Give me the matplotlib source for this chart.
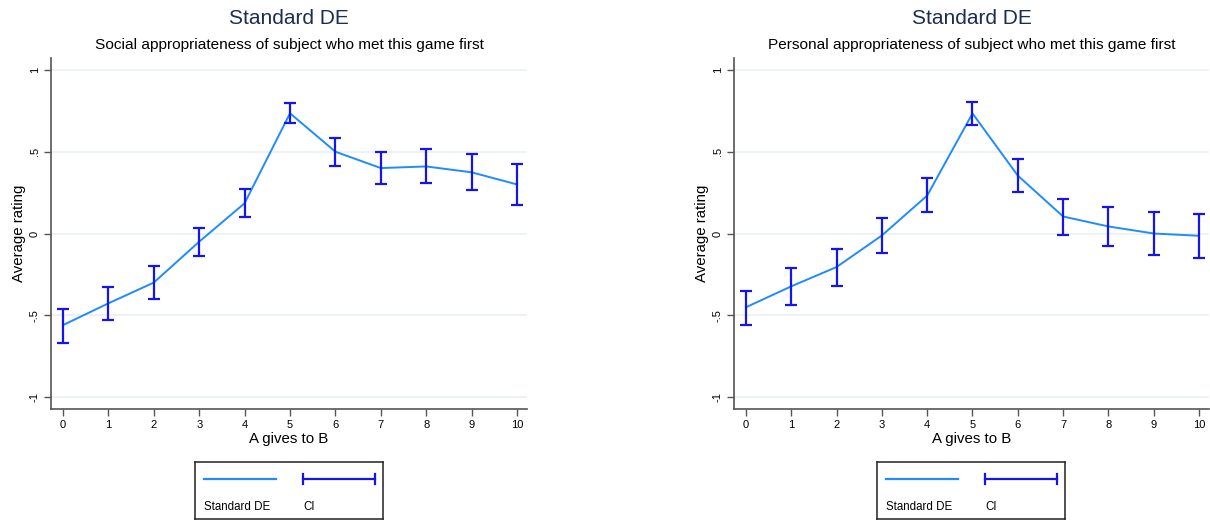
import numpy as np
import matplotlib
matplotlib.use("Agg")
import matplotlib.pyplot as plt
from matplotlib.lines import Line2D

plt.rcParams['font.family'] = ['Liberation Sans', 'DejaVu Sans']

gives = list(range(0, 11))

# social appropriateness
social_mean = [-0.56, -0.427, -0.30, -0.05, 0.185, 0.735, 0.50, 0.40, 0.41, 0.374, 0.30]
social_hi = [-0.46, -0.325, -0.20, 0.035, 0.27, 0.80, 0.584, 0.50, 0.515, 0.484, 0.425]
social_lo = [-0.67, -0.53, -0.40, -0.136, 0.103, 0.674, 0.415, 0.30, 0.31, 0.266, 0.176]

# personal appropriateness
personal_mean = [-0.451, -0.323, -0.205, -0.012, 0.232, 0.734, 0.354, 0.104, 0.043, 0.0, -0.014]
personal_hi = [-0.352, -0.211, -0.093, 0.093, 0.339, 0.807, 0.453, 0.213, 0.163, 0.132, 0.122]
personal_lo = [-0.561, -0.435, -0.319, -0.122, 0.130, 0.661, 0.252, -0.008, -0.075, -0.134, -0.150]

yticks = [-1, -0.5, 0, 0.5, 1]
ytick_labels = ['-1', '-.5', '0', '.5', '1']

title = "Standard DE"
subtitles = ["Social appropriateness of subject who met this game first",
             "Personal appropriateness of subject who met this game first"]
series_label = "Standard DE"
ci_label = "CI"

line_col = '#1f8bff'
ci_col = '#1414f0'
title_col = '#1c2d52'
grid_col = '#eaf0f1'
spine_col = '#555555'

W, H = 1210, 523
fig = plt.figure(figsize=(W / 100, H / 100), dpi=100)


def px_axes(x0, y0, x1, y1):
    return fig.add_axes([x0 / W, 1 - y1 / H, (x1 - x0) / W, (y1 - y0) / H])


panels = [
    (51, 527, social_mean, social_lo, social_hi, subtitles[0], (195, 383)),
    (734, 1209, personal_mean, personal_lo, personal_hi, subtitles[1], (877, 1065)),
]

for x0, x1, m, lo, hi, sub, (lx0, lx1) in panels:
    ax = px_axes(x0, 58, x1, 409)
    m = np.array(m)
    lo = np.array(lo)
    hi = np.array(hi)
    ax.plot(gives, m, color=line_col, lw=1.4, zorder=3)
    ax.errorbar(gives, (lo + hi) / 2, yerr=[(hi - lo) / 2, (hi - lo) / 2], fmt='none',
                ecolor=ci_col, elinewidth=1.6, capsize=4, capthick=1.6, zorder=4)
    ax.set_xlim(-0.264, 10.22)
    ax.set_ylim(-1.073, 1.073)
    ax.set_xticks(gives)
    ax.set_xticklabels([str(g) for g in gives], fontsize=8)
    ax.set_yticks(yticks)
    ax.set_yticklabels(ytick_labels, fontsize=8, rotation=90, va='center')
    for y in yticks:
        ax.axhline(y, color=grid_col, lw=1.2, zorder=0)
    for s in ['top', 'right']:
        ax.spines[s].set_visible(False)
    for s in ['left', 'bottom']:
        ax.spines[s].set_color(spine_col)
        ax.spines[s].set_linewidth(1.2)
    ax.tick_params(axis='both', direction='out', length=5, width=1, color=spine_col, pad=3)
    ax.set_xlabel("A gives to B", fontsize=10.8, labelpad=1)
    ax.set_ylabel("Average rating", fontsize=10.8, labelpad=3)
    cx = (x0 + x1) / 2 / W
    fig.text(cx, 1 - 18 / H, title, ha='center', va='center', fontsize=15, color=title_col)
    fig.text(cx, 1 - 45 / H, sub, ha='center', va='center', fontsize=11.1, color='black')

    # legend box
    lax = px_axes(lx0, 462, lx1, 519)
    lax.set_xlim(0, lx1 - lx0)
    lax.set_ylim(57, 0)
    lax.set_xticks([])
    lax.set_yticks([])
    for s in lax.spines.values():
        s.set_color('#222222')
        s.set_linewidth(1.1)
    k1 = 9
    k2 = 108
    klen = 72
    lax.add_line(Line2D([k1, k1 + klen], [17, 17], color=line_col, lw=1.6))
    lax.add_line(Line2D([k2, k2 + klen], [17, 17], color=ci_col, lw=1.6))
    lax.add_line(Line2D([k2, k2], [12, 22], color=ci_col, lw=1.6))
    lax.add_line(Line2D([k2 + klen, k2 + klen], [12, 22], color=ci_col, lw=1.6))
    lax.text(k1, 45, series_label, fontsize=8.3, va='center', ha='left')
    lax.text(k2, 45, ci_label, fontsize=8.3, va='center', ha='left')

fig.savefig('out.png', dpi=100)
